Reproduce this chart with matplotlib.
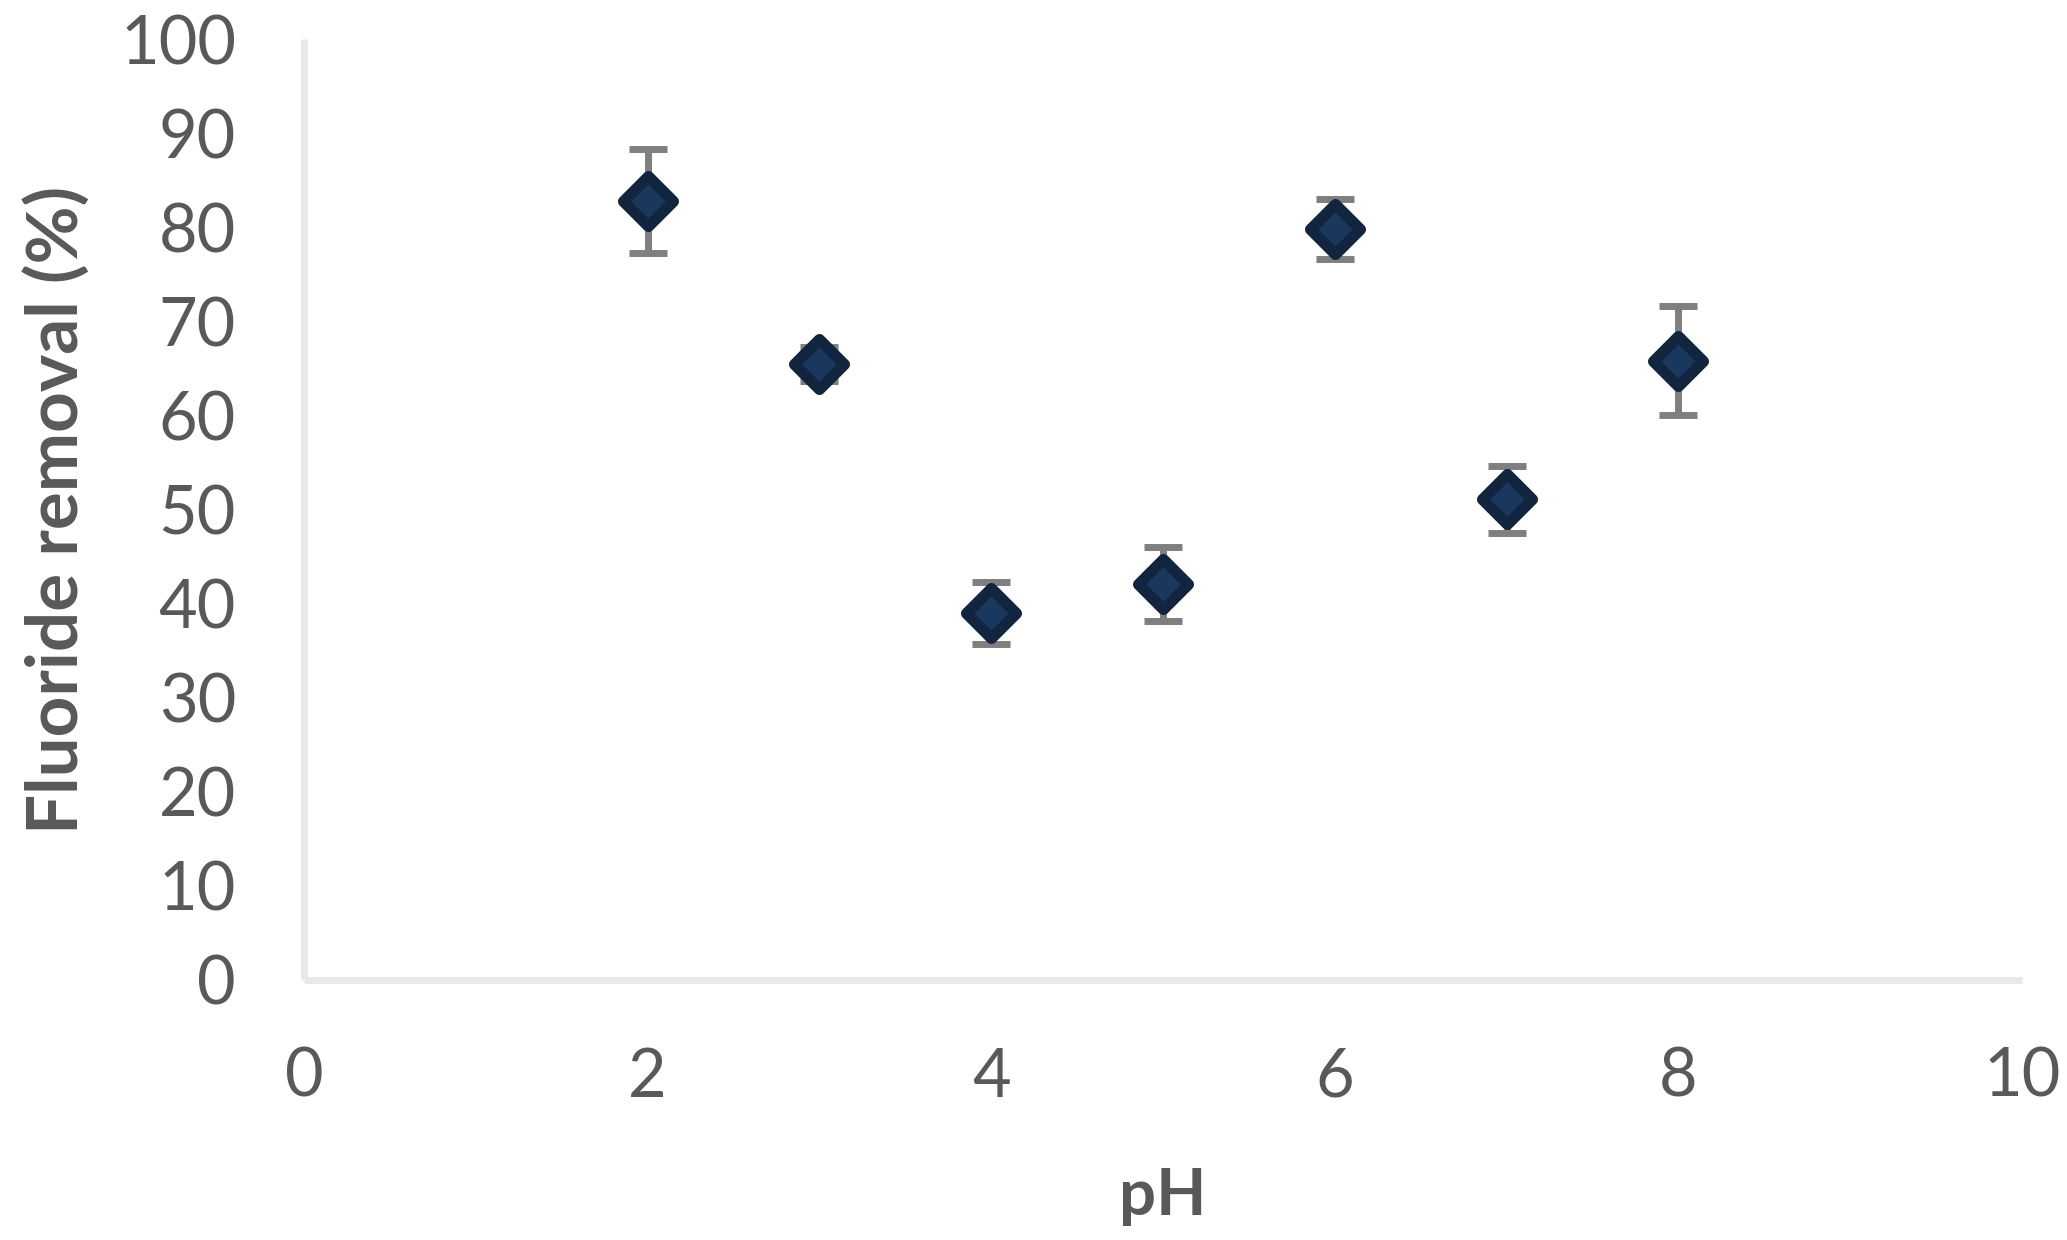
import matplotlib
matplotlib.use("Agg")
import matplotlib.pyplot as plt
from matplotlib.markers import MarkerStyle

# fluoride removal vs pH
ph = [2, 3, 4, 5, 6, 7, 8]
removal = [82.8, 65.5, 39.0, 42.1, 79.8, 51.1, 65.8]
removal_err = [5.5, 1.8, 3.25, 3.9, 3.15, 3.55, 5.8]

x_ticks = [0, 2, 4, 6, 8, 10]
y_ticks = [0, 10, 20, 30, 40, 50, 60, 70, 80, 90, 100]

plt.rcParams['font.family'] = ['Lato', 'DejaVu Sans']
text_grey = '#595959'
axis_grey = '#e8e8e8'

fig = plt.figure(figsize=(20.67, 12.4), dpi=100)
ax = fig.add_axes([0.1471, 0.2097, 0.8311, 0.7588])

ax.errorbar(ph, removal, yerr=removal_err, fmt='none', ecolor='#7f7f7f',
            elinewidth=5, capsize=14, capthick=5, zorder=2)
ax.plot(ph, removal, linestyle='none',
        marker=MarkerStyle('D', joinstyle='round'), markersize=25.4,
        markerfacecolor='#1a375e', markeredgecolor='#11253f',
        markeredgewidth=8, zorder=3)

ax.set_xlim(0, 10)
ax.set_ylim(0, 100)
ax.set_xticks(x_ticks)
ax.set_yticks(y_ticks)
ax.tick_params(length=0, labelsize=48, labelcolor=text_grey)
ax.tick_params(axis='x', pad=48)
ax.tick_params(axis='y', pad=49)

for side in ['top', 'right']:
    ax.spines[side].set_visible(False)
for side in ['left', 'bottom']:
    ax.spines[side].set_color(axis_grey)
    ax.spines[side].set_linewidth(5)
    ax.spines[side].set_capstyle('butt')

ax.set_xlabel('pH', fontsize=47, fontweight='bold', color=text_grey,
              va='baseline')
ax.set_ylabel('Fluoride removal (%)', fontsize=51, fontweight='bold',
              color=text_grey, va='center')
ax.yaxis.set_label_coords(-0.144, 0.5)
ax.xaxis.set_label_coords(0.5, -0.2497)

fig.savefig('out.png', dpi=100)
